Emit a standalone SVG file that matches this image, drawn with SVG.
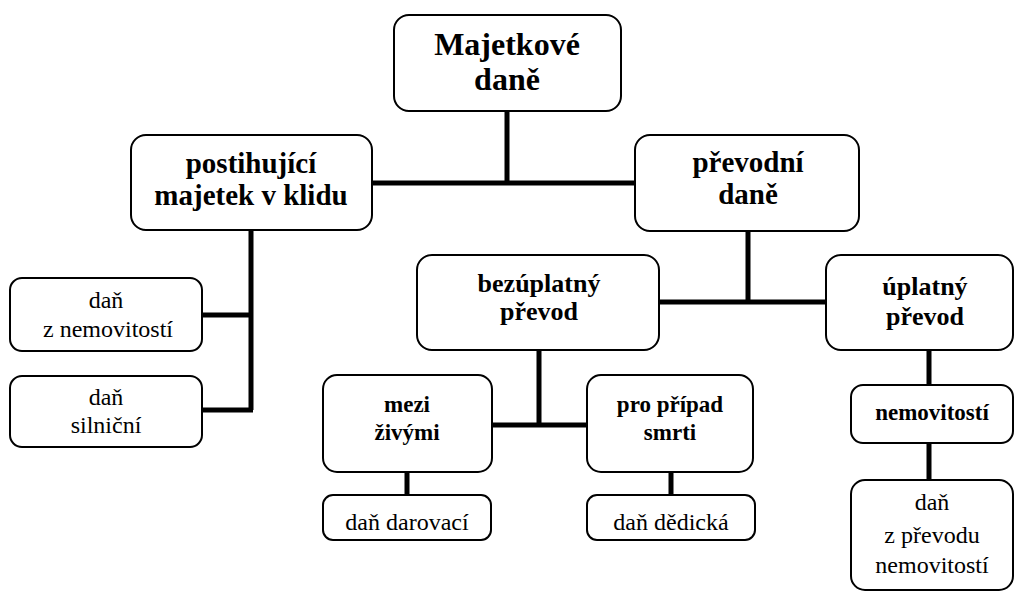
<svg xmlns="http://www.w3.org/2000/svg" width="1018" height="595" viewBox="0 0 1018 595">
<style>
.box{fill:#fff;stroke:#000;stroke-width:2}
.t{font-family:'Liberation Serif','DejaVu Serif',serif;fill:#000;text-anchor:middle}
.b{font-weight:bold}
.r{font-size:24px}
.ln{stroke:#000;stroke-width:5;fill:none;stroke-linecap:butt}
</style>
<rect width="1018" height="595" fill="#fff"/>
<g id="connectors">
<path class="ln" d="M507,111 V183 M366,183 H636"/>
<path class="ln" d="M251,230 V410 M202,315 H251 M202,410 H253"/>
<path class="ln" d="M748,231 V302 M659,302 H827"/>
<path class="ln" d="M539,350 V425 M492,425 H587"/>
<path class="ln" d="M407,472 V495 M671,472 V495"/>
<path class="ln" d="M929,350 V385 M929,443 V480"/>
</g>
<g id="n-root"><rect class="box" x="394" y="15" width="227" height="96" rx="15"/>
<text class="t b" x="507" y="55" font-size="32">Majetkové</text><text class="t b" x="507" y="90" font-size="32">daně</text></g>
<g id="n-klid"><rect class="box" x="131" y="135" width="241" height="95" rx="15"/>
<text class="t b" x="251" y="173" font-size="29">postihující</text><text class="t b" x="251" y="205" font-size="29">majetek v klidu</text></g>
<g id="n-prevodni"><rect class="box" x="635" y="135" width="224" height="96" rx="15"/>
<text class="t b" x="748" y="172" font-size="29">převodní</text><text class="t b" x="748" y="204" font-size="29">daně</text></g>
<g id="n-nemov"><rect class="box" x="10" y="278" width="192" height="73" rx="12"/>
<text class="t r" x="106" y="308">daň</text><text class="t r" x="108" y="337">z nemovitostí</text></g>
<g id="n-silnicni"><rect class="box" x="10" y="376" width="192" height="71" rx="12"/>
<text class="t r" x="106" y="405">daň</text><text class="t r" x="106" y="433">silniční</text></g>
<g id="n-bezuplatny"><rect class="box" x="417" y="255" width="242" height="95" rx="15"/>
<text class="t b" x="539" y="292" font-size="26">bezúplatný</text><text class="t b" x="539" y="320" font-size="26">převod</text></g>
<g id="n-uplatny"><rect class="box" x="826" y="255" width="187" height="95" rx="15"/>
<text class="t b" x="925" y="295" font-size="26">úplatný</text><text class="t b" x="925" y="325" font-size="26">převod</text></g>
<g id="n-mezi"><rect class="box" x="323" y="375" width="169" height="97" rx="14"/>
<text class="t b" x="407" y="412" font-size="23">mezi</text><text class="t b" x="407" y="440" font-size="23">živými</text></g>
<g id="n-smrt"><rect class="box" x="587" y="375" width="166" height="97" rx="14"/>
<text class="t b" x="670" y="412" font-size="23">pro případ</text><text class="t b" x="670" y="440" font-size="23">smrti</text></g>
<g id="n-nemovitosti"><rect class="box" x="851" y="385" width="162" height="58" rx="12"/>
<text class="t b" x="932" y="420" font-size="23">nemovitostí</text></g>
<g id="n-darovaci"><rect class="box" x="323" y="495" width="168" height="45" rx="10"/>
<text class="t r" x="407" y="530">daň darovací</text></g>
<g id="n-dedicka"><rect class="box" x="587" y="495" width="168" height="45" rx="10"/>
<text class="t r" x="671" y="530">daň dědická</text></g>
<g id="n-prevod-nem"><rect class="box" x="851" y="480" width="162" height="110" rx="14"/>
<text class="t r" x="932" y="510">daň</text><text class="t r" x="932" y="543">z převodu</text><text class="t r" x="932" y="573">nemovitostí</text></g>
</svg>
